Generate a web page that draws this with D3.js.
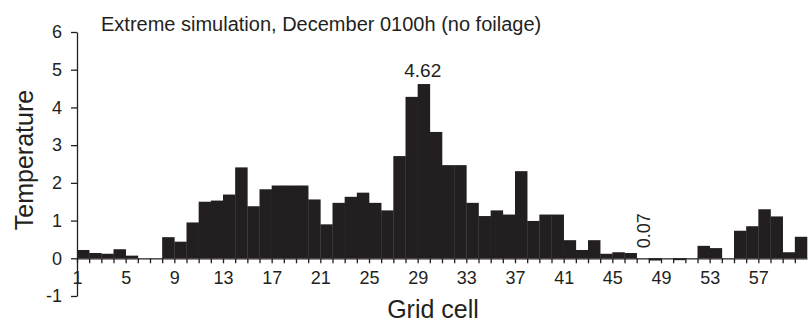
<!DOCTYPE html>
<html>
<head>
<meta charset="utf-8">
<script src="https://cdn.jsdelivr.net/npm/d3@7"></script>
<style>
  body { margin: 0; background: #fff; }
  svg { font-family: "Liberation Sans", Arial, sans-serif; }
</style>
</head>
<body>
<svg id="chart"></svg>
<script>
// Data
const cells = d3.range(1, 61);
const temperature = [
  0.22, 0.14, 0.12, 0.24, 0.07, 0, 0, 0.56, 0.44, 0.95,
  1.5, 1.53, 1.69, 2.41, 1.38, 1.83, 1.93, 1.93, 1.93, 1.56,
  0.9, 1.47, 1.63, 1.74, 1.47, 1.27, 2.71, 4.28, 4.62, 3.35,
  2.47, 2.47, 1.47, 1.12, 1.27, 1.16, 2.31, 0.99, 1.16, 1.16,
  0.48, 0.22, 0.48, 0.12, 0.16, 0.14, 0, -0.06, 0, -0.05,
  0, 0.33, 0.27, 0, 0.73, 0.85, 1.3, 1.11, 0.16, 0.57
];
const xTickLabels = [1, 5, 9, 13, 17, 21, 25, 29, 33, 37, 41, 45, 49, 53, 57];
const yTicks = [-1, 0, 1, 2, 3, 4, 5, 6];
const annotations = [{cell: 29, text: "4.62", rotate: false}, {cell: 47, text: "0.07", rotate: true}];

const width = 809, height = 326;
const margin = {top: 32, right: 2, bottom: 30, left: 77};
const ink = "#231f20";

const svg = d3.select("#chart")
  .attr("width", width)
  .attr("height", height);

// Scales
const xBand = d3.scaleBand()
  .domain(cells)
  .range([margin.left, width - margin.right])
  .paddingInner(0);

const xEdge = d3.scaleLinear()
  .domain([1, 61])
  .range([margin.left, width - margin.right]);

const yScale = d3.scaleLinear()
  .domain([-1, 6])
  .range([height - margin.bottom, margin.top]);

const data = cells.map((c, i) => ({cell: c, value: temperature[i]}));

// Bars
svg.append("g")
  .selectAll("rect")
  .data(data)
  .join("rect")
    .attr("x", d => xBand(d.cell))
    .attr("width", xBand.bandwidth() + 0.3)
    .attr("y", d => yScale(Math.max(0, d.value)))
    .attr("height", d => Math.abs(yScale(d.value) - yScale(0)))
    .attr("fill", ink);

// X axis at y = 0, tick at every cell edge
const xAxis = svg.append("g")
  .attr("transform", `translate(0,${yScale(0)})`)
  .call(d3.axisBottom(xEdge)
    .tickValues(d3.range(1, 61))
    .tickSize(5)
    .tickPadding(8)
    .tickSizeOuter(0)
    .tickFormat(d => xTickLabels.includes(d) ? d : ""));

// Y axis
const yAxis = svg.append("g")
  .attr("transform", `translate(${margin.left},0)`)
  .call(d3.axisLeft(yScale)
    .tickValues(yTicks)
    .tickSize(6)
    .tickPadding(9)
    .tickSizeOuter(0)
    .tickFormat(d => String(d)));

[xAxis, yAxis].forEach(ax => {
  ax.select(".domain").attr("stroke", ink).attr("stroke-width", 1.3);
  ax.selectAll(".tick line").attr("stroke", ink).attr("stroke-width", 1.3);
  ax.selectAll(".tick text").attr("fill", ink).style("font-size", "18px");
});

// Value annotations
annotations.forEach(a => {
  const d = data.find(r => r.cell === a.cell);
  const cx = xBand(a.cell) + xBand.bandwidth() / 2;
  if (a.rotate) {
    svg.append("text")
      .attr("transform", `translate(${cx + 7},${yScale(0) - 10}) rotate(-90)`)
      .attr("fill", ink)
      .style("font-size", "18px")
      .text(a.text);
  } else {
    svg.append("text")
      .attr("x", cx - 1)
      .attr("y", yScale(d.value) - 7)
      .attr("text-anchor", "middle")
      .attr("fill", ink)
      .style("font-size", "19px")
      .text(a.text);
  }
});

// Title
svg.append("text")
  .attr("x", 101)
  .attr("y", 31)
  .attr("fill", ink)
  .style("font-size", "20px")
  .text("Extreme simulation, December 0100h (no foilage)");

// Axis titles
svg.append("text")
  .attr("transform", `translate(33,${(margin.top + yScale(-1)) / 2 - 4}) rotate(-90)`)
  .attr("text-anchor", "middle")
  .attr("fill", ink)
  .style("font-size", "25px")
  .text("Temperature");

svg.append("text")
  .attr("x", 433)
  .attr("y", 318)
  .attr("text-anchor", "middle")
  .attr("fill", ink)
  .style("font-size", "25px")
  .text("Grid cell");
</script>
</body>
</html>
